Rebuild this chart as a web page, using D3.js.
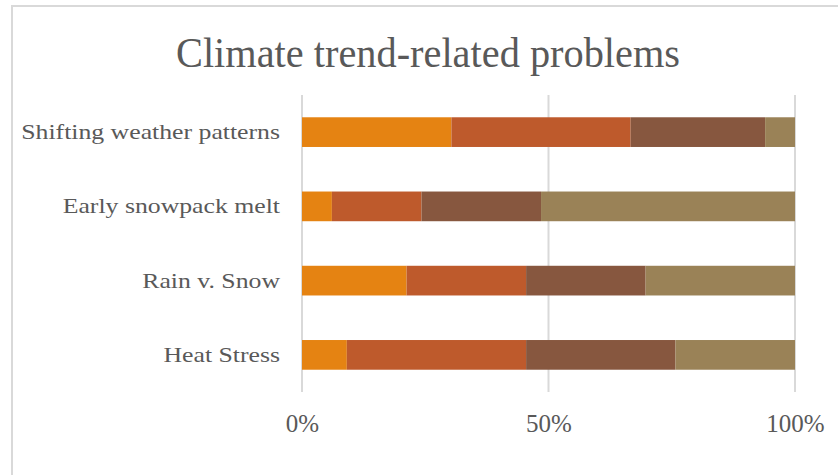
<!DOCTYPE html>
<html>
<head>
<meta charset="utf-8">
<script src="https://cdn.jsdelivr.net/npm/d3@7"></script>
<style>
  html, body { margin: 0; padding: 0; background: #ffffff; }
  svg { display: block; }
</style>
</head>
<body>
<svg id="chart" width="838" height="475"></svg>
<script>
// Survey responses per problem (counts), stacked to 100%
const categories = ["Shifting weather patterns", "Early snowpack melt", "Rain v. Snow", "Heat Stress"];
const seriesNames = ["Level 1", "Level 2", "Level 3", "Level 4"];
const level1 = [10, 2, 7, 3];
const level2 = [12, 6, 8, 12];
const level3 = [9, 8, 8, 10];
const level4 = [2, 17, 10, 8];
const tickValues = [0, 0.5, 1];
const colors = ["#e58312", "#be5a2c", "#87573f", "#9a8257"];

const svg = d3.select("#chart");
const font = "'Liberation Serif', 'DejaVu Serif', serif";
const textColor = "#595959";

// chart frame
svg.append("rect")
  .attr("x", 12).attr("y", 6)
  .attr("width", 850).attr("height", 480)
  .attr("fill", "#ffffff")
  .attr("stroke", "#d9d9d9").attr("stroke-width", 2);

// title
svg.append("text")
  .attr("x", 428).attr("y", 67)
  .attr("text-anchor", "middle")
  .attr("font-family", font)
  .attr("font-size", 42)
  .attr("fill", textColor)
  .attr("textLength", 504)
  .attr("lengthAdjust", "spacingAndGlyphs")
  .text("Climate trend-related problems");

// build the normalized stack
const rows = categories.map((c, i) => {
  const vals = [level1[i], level2[i], level3[i], level4[i]];
  const total = d3.sum(vals);
  const r = { category: c };
  seriesNames.forEach((s, j) => { r[s] = vals[j] / total; });
  return r;
});
const stacked = d3.stack().keys(seriesNames)(rows);

const x = d3.scaleLinear().domain([0, 1]).range([302, 795]);
const y = d3.scaleBand().domain(categories).range([95, 392]).paddingInner(0.6).paddingOuter(0.3);

// vertical gridlines
svg.append("g").selectAll("line")
  .data(tickValues)
  .join("line")
  .attr("x1", d => x(d)).attr("x2", d => x(d))
  .attr("y1", 95).attr("y2", 392)
  .attr("stroke", "#d9d9d9").attr("stroke-width", 2);

// stacked bars
svg.append("g").selectAll("g")
  .data(stacked)
  .join("g")
  .attr("fill", (d, i) => colors[i])
  .selectAll("rect")
  .data(d => d)
  .join("rect")
  .attr("x", d => x(d[0]))
  .attr("width", d => x(d[1]) - x(d[0]))
  .attr("y", d => y(d.data.category))
  .attr("height", y.bandwidth());

// category axis (left), labels set a little wider than the fallback serif
const yAxis = svg.append("g")
  .attr("transform", "translate(302,0)")
  .call(d3.axisLeft(y).tickSize(0).tickPadding(22));
yAxis.select(".domain").remove();
yAxis.selectAll("text")
  .attr("font-family", font)
  .attr("font-size", 22)
  .attr("fill", textColor)
  .each(function () {
    const w = this.getComputedTextLength();
    d3.select(this).attr("textLength", w * 1.17).attr("lengthAdjust", "spacingAndGlyphs");
  });

// value axis (bottom)
const xAxis = svg.append("g")
  .attr("transform", "translate(0,392)")
  .call(d3.axisBottom(x).tickValues(tickValues).tickFormat(d3.format(".0%")).tickSize(0).tickPadding(22));
xAxis.select(".domain").remove();
xAxis.selectAll("text")
  .attr("font-family", font)
  .attr("font-size", 25)
  .attr("fill", textColor);
</script>
</body>
</html>
